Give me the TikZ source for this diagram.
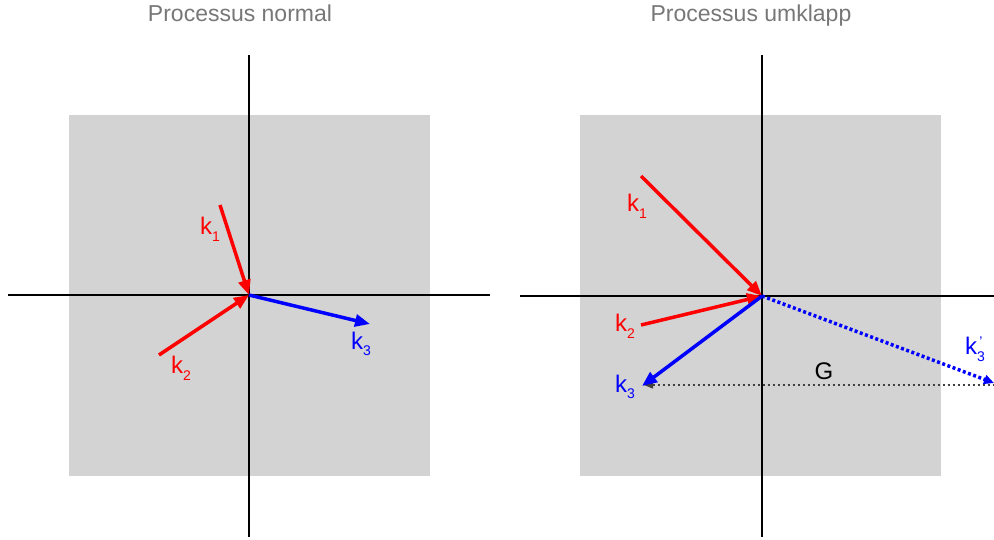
\documentclass[tikz,border=0pt]{standalone}
\usepackage{fontspec}
\setmainfont{Liberation Sans}
\usetikzlibrary{arrows.meta}
\definecolor{boxgrey}{HTML}{D3D3D3}
\definecolor{titlegrey}{HTML}{777777}
\definecolor{kred}{HTML}{FF0000}
\definecolor{kblue}{HTML}{0000FF}
\newcommand{\kvec}[1]{k\raisebox{-0.28em}{\fontsize{14}{14}\selectfont #1}}
\newcommand{\kprime}[1]{k\raisebox{-0.28em}{\fontsize{14}{13}\selectfont\shortstack{'\\[2pt]#1}}}
\begin{document}
\begin{tikzpicture}[x=1pt,y=-1pt,
  panel/.style={fill=boxgrey,draw=none},
  axis/.style={line width=2pt,black},
  vec/.style={line width=3.5pt,-{Triangle[length=15pt,width=12pt]}},
  dotvec/.style={line width=3.5pt,dash pattern=on 3pt off 2.5pt,-{Triangle[length=10pt,width=9pt]}},
  gline/.style={line width=1.3pt,dash pattern=on 2.5pt off 2.5pt,black!75,{Triangle[length=9pt,width=7pt]}-},
  title/.style={text=titlegrey,font=\fontsize{23}{27}\selectfont,anchor=base},
  lbl/.style={font=\fontsize{24}{28}\selectfont,inner sep=0pt}]
\useasboundingbox (0,0) rectangle (994,539);
% ---------- left panel ----------
\node[title] (t1) at (240,21) {Processus normal};
\fill[panel] (69,115) rectangle (430,476);
\coordinate (o1) at (249,295);
\coordinate (ax1l) at (8,295);
\coordinate (ax1r) at (490,295);
\coordinate (ax1t) at (249,55);
\coordinate (ax1b) at (249,537);
\draw[axis] (ax1l) -- (ax1r);
\draw[axis] (ax1t) -- (ax1b);
\coordinate (a1) at (220,205);
\coordinate (a2) at (159,355);
\coordinate (a3) at (370,324);
\draw[vec,kred] (a1) -- (o1);
\draw[vec,kred] (a2) -- (o1);
\draw[vec,kblue] (o1) -- (a3);
\node[lbl,text=kred] (l1) at (210,229) {\kvec{1}};
\node[lbl,text=kred] (l2) at (181,368) {\kvec{2}};
\node[lbl,text=kblue] (l3) at (361,344) {\kvec{3}};
% ---------- right panel ----------
\node[title] (t2) at (751,21) {Processus umklapp};
\fill[panel] (580,115) rectangle (941,476);
\coordinate (o2) at (762,296);
\coordinate (ax2l) at (520,296);
\coordinate (ax2r) at (994,296);
\coordinate (ax2t) at (762,55);
\coordinate (ax2b) at (762,537);
\draw[axis] (ax2l) -- (ax2r);
\draw[axis] (ax2t) -- (ax2b);
\coordinate (b1) at (641,176);
\coordinate (b2) at (641,325);
\coordinate (b3) at (642,386);
\coordinate (b4) at (994,383);
\coordinate (g1) at (994,385);
\coordinate (g2) at (644,385);
\draw[gline] (g2) -- (g1);
\draw[vec,kred] (b1) -- (o2);
\draw[vec,kred] (b2) -- (o2);
\draw[vec,kblue] (o2) -- (b3);
\draw[dotvec,kblue] (o2) -- (b4);
\node[lbl,text=kred] (m1) at (637,206) {\kvec{1}};
\node[lbl,text=kred] (m2) at (625,326) {\kvec{2}};
\node[lbl,text=kblue] (m3) at (625,387) {\kvec{3}};
\node[lbl,text=kblue] (m4) at (975,349) {\kprime{3}};
\node[lbl] (mg) at (824,371) {G};
\end{tikzpicture}
\end{document}
